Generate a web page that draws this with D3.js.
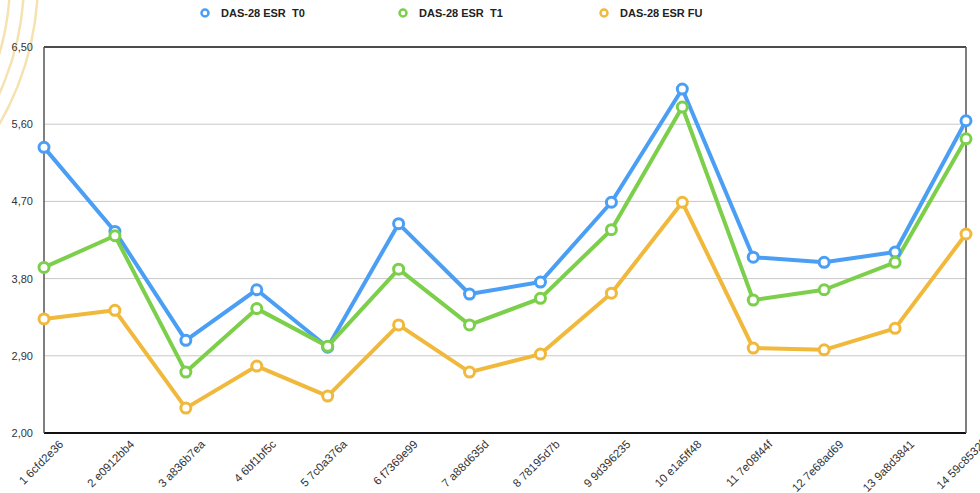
<!DOCTYPE html>
<html>
<head>
<meta charset="utf-8">
<script src="https://cdn.jsdelivr.net/npm/d3@7"></script>
<style>
  body { margin: 0; background: #fff; }
  text { font-family: "Liberation Sans", Arial, sans-serif; }
</style>
</head>
<body>
<div id="vis"></div>
<script>
const W = 980, H = 493;
const M = {left: 44, right: 14, top: 47, bottom: 60};

// data
const patients = ["1 6cfd2e36", "2 e0912bb4", "3 a836b7ea", "4 6bf1bf5c", "5 7c0a376a",
  "6 f7369e99", "7 a88d635d", "8 78195d7b", "9 9d396235", "10 e1a5ff48",
  "11 7e08f44f", "12 7e68ad69", "13 9a8d3841", "14 59c8532f"];
const t0 = [5.33, 4.35, 3.08, 3.67, 3.00, 4.44, 3.62, 3.76, 4.69, 6.01, 4.05, 3.99, 4.11, 5.64];
const t1 = [3.93, 4.30, 2.71, 3.45, 3.01, 3.91, 3.26, 3.57, 4.37, 5.80, 3.55, 3.67, 3.99, 5.43];
const fu = [3.33, 3.43, 2.29, 2.78, 2.43, 3.26, 2.71, 2.92, 3.63, 4.69, 2.99, 2.97, 3.22, 4.32];
const yTicks = [2.0, 2.9, 3.8, 4.7, 5.6, 6.5];

const series = [
  {name: "DAS-28 ESR  T0", values: t0, color: "#4a9ff5", lx: 205},
  {name: "DAS-28 ESR  T1", values: t1, color: "#7ccf4a", lx: 403},
  {name: "DAS-28 ESR FU", values: fu, color: "#f0b93c", lx: 604}
];

const svg = d3.select("#vis").append("svg")
  .attr("width", W).attr("height", H);

// faint decorative arcs in the corner
[0, 14, 28].forEach(d => {
  svg.append("circle")
    .attr("cx", -250).attr("cy", -20).attr("r", 260 + d)
    .attr("fill", "none").attr("stroke", "#f6e2b0").attr("stroke-width", 2.5);
});

const x = d3.scalePoint().domain(patients).range([M.left, W - M.right]);
const y = d3.scaleLinear().domain([2, 6.5]).range([H - M.bottom, M.top]);

// gridlines
svg.append("g").selectAll("line").data(yTicks.slice(1, -1)).join("line")
  .attr("x1", M.left).attr("x2", W - M.right)
  .attr("y1", d => y(d)).attr("y2", d => y(d))
  .attr("stroke", "#c8c8c8").attr("stroke-width", 1);

// frame
svg.append("line").attr("x1", M.left).attr("x2", W - M.right)
  .attr("y1", y(6.5)).attr("y2", y(6.5)).attr("stroke", "#111").attr("stroke-width", 1.5);
svg.append("line").attr("x1", M.left).attr("x2", W - M.right)
  .attr("y1", y(2)).attr("y2", y(2)).attr("stroke", "#111").attr("stroke-width", 2);
svg.append("line").attr("x1", M.left).attr("x2", M.left)
  .attr("y1", y(6.5)).attr("y2", y(2)).attr("stroke", "#555").attr("stroke-width", 1.5);
svg.append("line").attr("x1", W - M.right).attr("x2", W - M.right)
  .attr("y1", y(6.5)).attr("y2", y(2)).attr("stroke", "#555").attr("stroke-width", 1.5);

// y labels
svg.append("g").selectAll("text").data(yTicks).join("text")
  .attr("x", 33).attr("y", d => y(d) + 4)
  .attr("text-anchor", "end").attr("font-size", 11).attr("fill", "#333")
  .text(d => d3.format(".2f")(d).replace(".", ","));

// x labels
svg.append("g").selectAll("text").data(patients).join("text")
  .attr("transform", d => `translate(${x(d) + 20},${H - M.bottom + 12}) rotate(-45)`)
  .attr("text-anchor", "end").attr("font-size", 11.5).attr("fill", "#333")
  .text(d => d);

const line = d3.line().x((d, i) => x(patients[i])).y(d => y(d));

series.forEach(s => {
  svg.append("path").datum(s.values)
    .attr("d", line).attr("fill", "none")
    .attr("stroke", s.color).attr("stroke-width", 4)
    .attr("stroke-linejoin", "round");
});
series.forEach(s => {
  svg.append("g").selectAll("circle").data(s.values).join("circle")
    .attr("cx", (d, i) => x(patients[i])).attr("cy", d => y(d))
    .attr("r", 5).attr("fill", "#fff")
    .attr("stroke", s.color).attr("stroke-width", 3);
});

// legend
const lg = svg.append("g").selectAll("g").data(series).join("g");
lg.append("circle").attr("cx", d => d.lx).attr("cy", 13).attr("r", 3.5)
  .attr("fill", "#fff").attr("stroke", d => d.color).attr("stroke-width", 2.5);
lg.append("text").attr("x", d => d.lx + 16).attr("y", 17)
  .attr("font-size", 11).attr("font-weight", "bold").attr("fill", "#222")
  .attr("xml:space", "preserve").style("white-space", "pre")
  .text(d => d.name);
</script>
</body>
</html>
